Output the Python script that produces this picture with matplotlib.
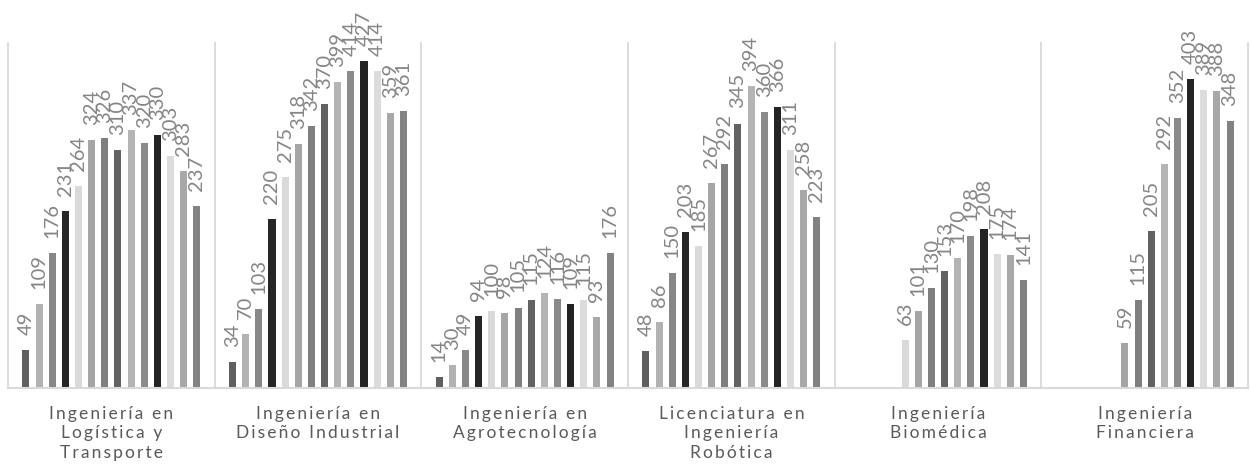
#!/usr/bin/env python

import numpy
import matplotlib
matplotlib.use("Agg")
from matplotlib import pyplot

nan = numpy.nan

# data

categories = [
    "Ingeniería en\nLogística y\nTransporte",
    "Ingeniería en\nDiseño Industrial",
    "Ingeniería en\nAgrotecnología",
    "Licenciatura en\nIngeniería\nRobótica",
    "Ingeniería\nBiomédica",
    "Ingeniería\nFinanciera",
]

logistica = [49, 109, 176, 231, 264, 324, 326, 310, 337, 320, 330, 303, 283, 237]
diseno = [34, 70, 103, 220, 275, 318, 342, 370, 399, 414, 427, 414, 359, 361]
agro = [14, 30, 49, 94, 100, 98, 105, 115, 124, 116, 109, 115, 93, 176]
robotica = [48, 86, 150, 203, 185, 267, 292, 345, 394, 360, 366, 311, 258, 223]
biomedica = [nan, nan, nan, nan, 63, 101, 130, 153, 170, 198, 208, 175, 174, 141]
financiera = [nan, nan, nan, nan, nan, 59, 115, 205, 292, 352, 403, 389, 388, 348]

# one row per career, one column per series
values = numpy.array([logistica, diseno, agro, robotica, biomedica, financiera])

# style

colors = [
    "#5f5f5f", "#b2b2b2", "#878787", "#262626", "#d9d9d9", "#a5a5a5", "#7f7f7f",
    "#626262", "#b4b4b4", "#8a8a8a", "#232323", "#dcdcdc", "#a8a8a8", "#828282",
]

n_cat, n_ser = values.shape
spacing = 0.0636
width = 0.034
LETTER_SP = "\u2009"


def spaced(text):
    # mimic the wide letter spacing of the original
    return "\n".join(LETTER_SP.join(line) for line in text.split("\n"))


fig = pyplot.figure(figsize=(12.51, 4.67), dpi=100)
ax = fig.add_axes([8 / 1251, (467 - 388) / 467, 1240 / 1251, 345 / 467])

x = numpy.arange(n_cat)
for j in range(n_ser):
    pos = x + (j - (n_ser - 1) / 2) * spacing
    ax.bar(pos, values[:, j], width=width, color=colors[j], zorder=2)
    for xi, v in zip(pos, values[:, j]):
        if numpy.isnan(v):
            continue
        ax.annotate(
            f"{int(v)}", (xi, v), xytext=(0, 15), textcoords="offset pixels",
            rotation=90, ha="center", va="bottom",
            fontsize=14.5, color="#858585", family=["Lato", "DejaVu Sans"],
            annotation_clip=False, zorder=3,
        )

ax.set_xlim(-0.5, n_cat - 0.5)
ax.set_ylim(0, 450)

for b in numpy.arange(n_cat + 1) - 0.5:
    ax.axvline(b, color="#d9d9d9", lw=1.3, zorder=1, clip_on=False)

for s in ["top", "right", "left"]:
    ax.spines[s].set_visible(False)
ax.spines["bottom"].set_color("#d9d9d9")
ax.spines["bottom"].set_linewidth(1.5)

ax.set_yticks([])
ax.set_xticks(x)
ax.set_xticklabels(
    [spaced(c) for c in categories], fontsize=12.5, color="#595959",
    family=["Lato", "DejaVu Sans"], linespacing=1.25,
)
ax.tick_params(axis="x", length=0, pad=13)

fig.savefig("out.png", dpi=100)
